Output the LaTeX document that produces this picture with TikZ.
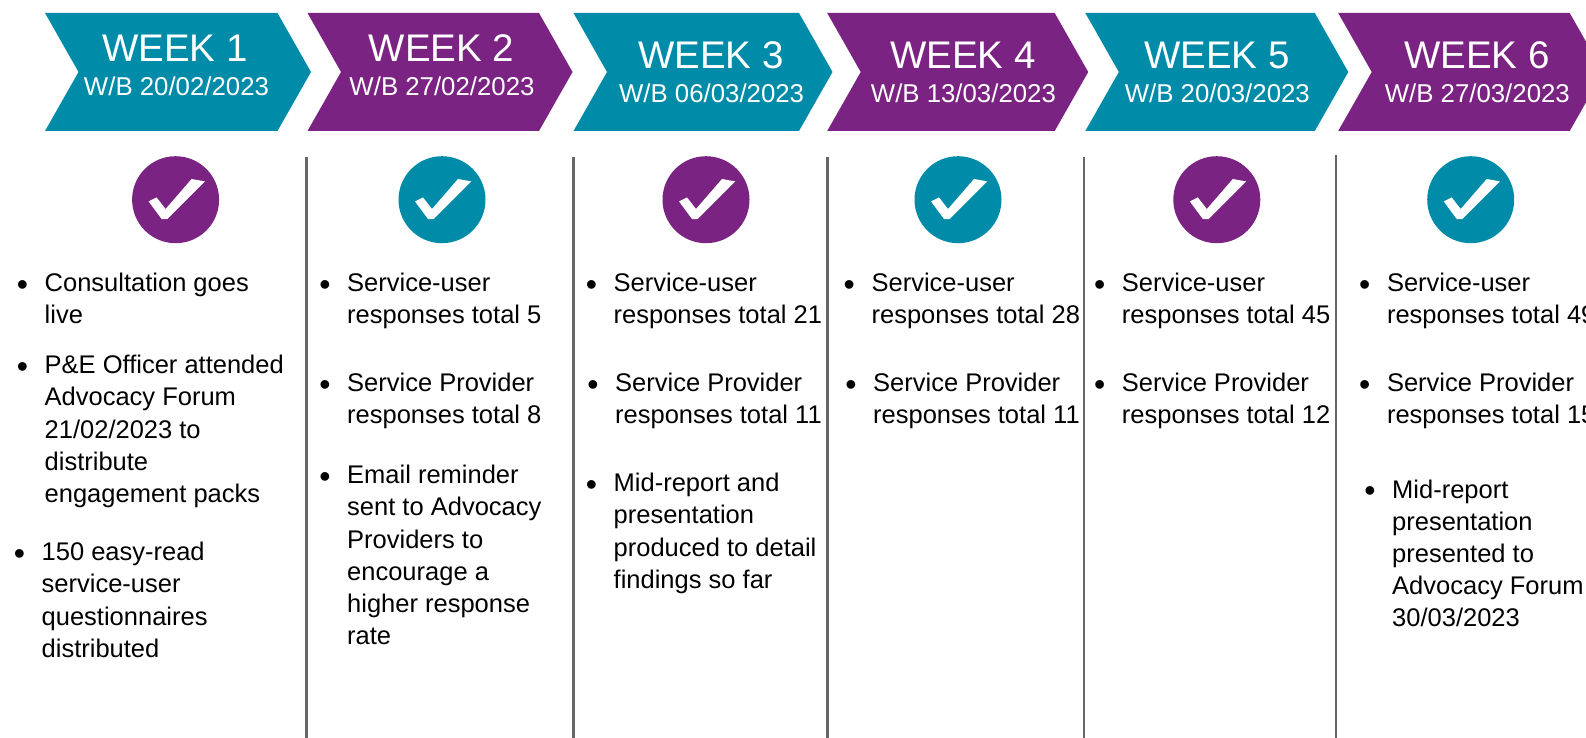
\documentclass[tikz,border=0pt]{standalone}
\usepackage{fontspec}
\setmainfont{Liberation Sans}
\usetikzlibrary{shapes.symbols}
\definecolor{teal1}{RGB}{0,140,168}
\definecolor{purple1}{RGB}{123,35,130}
\newcommand{\bul}{\llap{\raisebox{-3.4pt}{\fontsize{32}{32}\selectfont\textbullet}\hspace{16.7pt}}}
\begin{document}
\begin{tikzpicture}[
  x=1pt, y=-1pt,
  chevron/.style={signal, signal from=west, signal to=east, signal pointer angle=120.8, minimum height=118pt, inner sep=0pt, outer sep=0pt},
  weektitle/.style={anchor=base, text=white, inner sep=0pt, font=\fontsize{38.5}{38.5}\selectfont},
  weekdate/.style={anchor=base, text=white, inner sep=0pt, font=\fontsize{25.8}{26}\selectfont},
  badge/.style={circle, minimum size=87pt, inner sep=0pt, path picture={
    \fill[white, shift={(path picture bounding box.center)}] (-27,1.7) -- (-19,-2.3) -- (-10,9.3) -- (16,-20.7) -- (29.3,-18.3) -- (-8.3,19.3) -- (-14,19.3) -- cycle;}},
  entry/.style={anchor=north west, align=left, inner sep=0pt, font=\fontsize{25.5}{32.2}\selectfont},
  divider/.style={draw=black!60, line width=2.2pt}
]
\useasboundingbox (0,0) rectangle (1586,738);
\clip (0,0) rectangle (1586,738);

% week headers
\node[chevron, fill=teal1, minimum width=266pt] (week1) at (178,72) {};
\node[chevron, fill=purple1, minimum width=265pt] (week2) at (440,72) {};
\node[chevron, fill=teal1, minimum width=259pt] (week3) at (703,72) {};
\node[chevron, fill=purple1, minimum width=261pt] (week4) at (957.7,72) {};
\node[chevron, fill=teal1, minimum width=263pt] (week5) at (1216.8,72) {};
\node[chevron, fill=purple1, minimum width=265pt] (week6) at (1470.7,72) {};

\node[weektitle] (title1) at (175,62) {WEEK 1};
\node[weekdate] (date1) at (176.5,95.7) {W/B 20/02/2023};
\node[weektitle] (title2) at (441.5,62) {WEEK 2};
\node[weekdate] (date2) at (442,95.7) {W/B 27/02/2023};
\node[weektitle] (title3) at (711,69) {WEEK 3};
\node[weekdate] (date3) at (711.6,103) {W/B 06/03/2023};
\node[weektitle] (title4) at (963,69) {WEEK 4};
\node[weekdate] (date4) at (963.4,103) {W/B 13/03/2023};
\node[weektitle] (title5) at (1216.8,69) {WEEK 5};
\node[weekdate] (date5) at (1217.3,103) {W/B 20/03/2023};
\node[weektitle] (title6) at (1476.8,69) {WEEK 6};
\node[weekdate] (date6) at (1477.3,103) {W/B 27/03/2023};

% ticks
\node[badge, fill=purple1] (tick1) at (175.6,199.7) {};
\node[badge, fill=teal1] (tick2) at (442,199.7) {};
\node[badge, fill=purple1] (tick3) at (706,199.7) {};
\node[badge, fill=teal1] (tick4) at (958,199.7) {};
\node[badge, fill=purple1] (tick5) at (1216.8,199.7) {};
\node[badge, fill=teal1] (tick6) at (1470.7,199.7) {};

% dividers
\coordinate (top1) at (306.5,157);
\coordinate (bot1) at (306.5,738);
\coordinate (top2) at (573.5,157);
\coordinate (bot2) at (573.5,738);
\coordinate (top3) at (827.4,157);
\coordinate (bot3) at (827.4,738);
\coordinate (top4) at (1084.3,157);
\coordinate (bot4) at (1084.3,738);
\coordinate (top5) at (1336.3,155);
\coordinate (bot5) at (1336.3,738);
\draw[divider] (top1) -- (bot1);
\draw[divider] (top2) -- (bot2);
\draw[divider] (top3) -- (bot3);
\draw[divider] (top4) -- (bot4);
\draw[divider] (top5) -- (bot5);

% week 1
\node[entry] (a1) at (44.5,273) {\bul Consultation goes\\live};
\node[entry] (a2) at (44.5,355) {\bul P\&E Officer attended\\Advocacy Forum\\21/02/2023 to\\distribute\\engagement packs};
\node[entry] (a3) at (41.5,542) {\bul 150 easy-read\\service-user\\questionnaires\\distributed};
% week 2
\node[entry] (b1) at (347,273) {\bul Service-user\\responses total 5};
\node[entry] (b2) at (347,373) {\bul Service Provider\\responses total 8};
\node[entry] (b3) at (347,465) {\bul Email reminder\\sent to Advocacy\\Providers to\\encourage a\\higher response\\rate};
% week 3
\node[entry] (c1) at (613.5,273) {\bul Service-user\\responses total 21};
\node[entry] (c2) at (615,373) {\bul Service Provider\\responses total 11};
\node[entry] (c3) at (613.5,473) {\bul Mid-report and\\presentation\\produced to detail\\findings so far};
% week 4
\node[entry] (d1) at (871.4,273) {\bul Service-user\\responses total 28};
\node[entry] (d2) at (873,373) {\bul Service Provider\\responses total 11};
% week 5
\node[entry] (e1) at (1121.7,273) {\bul Service-user\\responses total 45};
\node[entry] (e2) at (1121.7,373) {\bul Service Provider\\responses total 12};
% week 6
\node[entry] (f1) at (1386.8,273) {\bul Service-user\\responses total 49};
\node[entry] (f2) at (1386.8,373) {\bul Service Provider\\responses total 15};
\node[entry] (f3) at (1392,479.5) {\bul Mid-report\\presentation\\presented to\\Advocacy Forum\\30/03/2023};
\end{tikzpicture}
\end{document}
